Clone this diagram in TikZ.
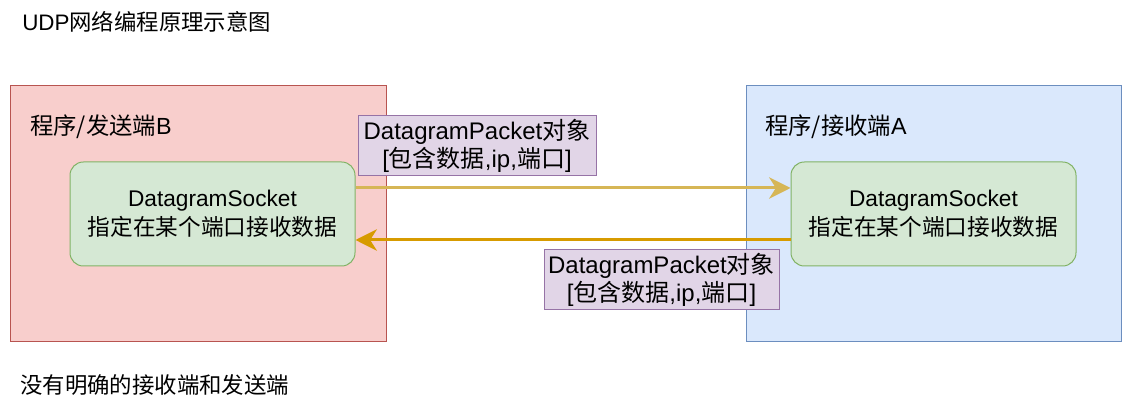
\documentclass[tikz,border=0pt]{standalone}
\usepackage{fontspec}
\setmainfont{Liberation Sans}
\newfontfamily\cjk{Noto Sans CJK SC}
\usepackage{tikz}
\usetikzlibrary{arrows.meta,positioning}
\definecolor{redFill}{HTML}{F8CECC}
\definecolor{redLine}{HTML}{B85450}
\definecolor{blueFill}{HTML}{DAE8FC}
\definecolor{blueLine}{HTML}{6C8EBF}
\definecolor{greenFill}{HTML}{D5E8D4}
\definecolor{greenLine}{HTML}{82B366}
\definecolor{purpleFill}{HTML}{E1D5E7}
\definecolor{purpleLine}{HTML}{9673A6}
\definecolor{goldLight}{HTML}{D6B656}
\definecolor{goldDark}{HTML}{D79B00}
\newcommand{\zh}[1]{{\cjk #1}}

\begin{document}
\begin{tikzpicture}[
  x=0.75pt, y=-0.75pt,
  every node/.style={inner sep=0pt},
  plain/.style={anchor=west, font=\fontsize{16.8}{20}\selectfont},
  prog/.style={draw, line width=0.75pt, minimum width=281.5pt, minimum height=192pt},
  sock/.style={draw=greenLine, fill=greenFill, line width=0.75pt, rounded corners=10pt,
               minimum width=213.75pt, minimum height=78pt, align=center,
               font=\fontsize{17}{21.5}\selectfont},
  pkt/.style={draw=purpleLine, fill=purpleFill, line width=0.75pt,
              minimum height=45pt, align=center,
              font=\fontsize{18}{21.5}\selectfont},
  flow/.style={line width=2.25pt, -{Stealth[length=16pt, width=16pt, inset=5pt]}},
]
\useasboundingbox (0,0) rectangle (1125,409);

% title and note
\node[plain] (title) at (22,22) {UDP\zh{网络编程原理示意图}};
\node[plain] (note) at (20,385) {\zh{没有明确的接收端和发送端}};

% the two programs
\node[prog, draw=redLine, fill=redFill] (sender) at (198.5,214) {};
\node[prog, draw=blueLine, fill=blueFill] (receiver) at (934,214) {};
\node[plain, font=\fontsize{17.5}{20}\selectfont] (senderlbl) at (30,127) {\zh{程序/发送端}B};
\node[plain, font=\fontsize{17.5}{20}\selectfont] (receiverlbl) at (765,127) {\zh{程序/接收端}A};

% sockets
\node[sock] (sockB) at (212.5,214) {DatagramSocket\\\zh{指定在某个端口接收数据}};
\node[sock] (sockA) at (933.5,214) {DatagramSocket\\\zh{指定在某个端口接收数据}};

% packets
\draw[flow, goldLight] ([yshift=19.5pt]sockB.east) -- ([yshift=19.5pt]sockA.west);
\draw[flow, goldDark] ([yshift=-19.5pt]sockA.west) -- ([yshift=-19.5pt]sockB.east);
\node[pkt, minimum width=178.5pt] (pktBA) at (477,146) {DatagramPacket\zh{对象}\\{}[\zh{包含数据},ip,\zh{端口}]};
\node[pkt, minimum width=176.25pt] (pktAB) at (661.5,280) {DatagramPacket\zh{对象}\\{}[\zh{包含数据},ip,\zh{端口}]};

\end{tikzpicture}
\end{document}
